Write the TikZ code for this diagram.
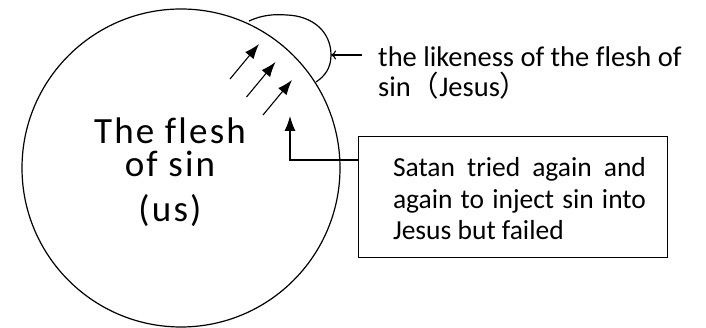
\documentclass[tikz,border=0pt]{standalone}
\usepackage{fontspec}
\setmainfont{Carlito}[Ligatures=NoCommon]
\newfontfamily\spacedfont{Carlito}[LetterSpace=6,Ligatures=NoCommon]
\newfontfamily\cjk{Noto Sans CJK SC}
\usetikzlibrary{arrows.meta,positioning}

\tikzset{
  outline/.style={line width=1.2pt},
  jab/.style={-{Latex[length=15pt,width=11pt]}, line width=1.1pt},
  note/.style={draw, line width=0.9pt, minimum width=309pt, minimum height=121pt, inner sep=0pt},
}

\begin{document}
\begin{tikzpicture}[x=1pt, y=-1pt, >=latex]
  \useasboundingbox (0,0) rectangle (706,328);

  % --- Cerchio grande (la carne del peccato) ---
  \node[draw, circle, outline, minimum size=318pt, inner sep=0pt] (flesh) at (181,168) {};
  \node[font=\spacedfont\fontsize{37}{33}\selectfont, align=center, inner sep=0pt]
    (fleshtxt) at (170,172) {The flesh\\of sin\\[12pt](us)};

  % --- Gobba: la somiglianza della carne ---
  \coordinate (bumpR) at (331,55);
  \draw[outline] (249,21) .. controls (262,15) and (274,14) .. (287,15)
    .. controls (313,16) and (331,32) .. (bumpR)
    .. controls (331,68) and (325,76) .. (316,82);

  % --- Frecce di Satana ---
  \foreach \i in {0,1,2}
    \draw[jab] (230+16.5*\i, 79+18*\i) -- ++(29,-35);

  % --- Etichetta in alto a destra ---
  \node[font=\fontsize{28.5}{30}\selectfont, align=left, anchor=north west, inner xsep=8pt, inner ysep=0pt]
    (likeness) at (370,47) {the likeness of the flesh of\\sin{\cjk （}Jesus{\cjk ）}};
  \draw[-{To[length=5pt,width=9pt]}, line width=1.1pt, shorten <=8pt] (likeness.west |- bumpR) -- (bumpR);

  % --- Riquadro: Satana ---
  \node[note] (satan) at (512.5,196.5) {};
  \node[font=\fontsize{27.5}{31.5}\selectfont, text width=253pt, align=justify, inner sep=0pt]
    (satantxt) at (519.5,199) {Satan tried again and again to inject sin into Jesus but failed};

  \coordinate (tip) at (290,116);
  \draw[jab] ([yshift=36.5pt]satan.west) -| (tip);
\end{tikzpicture}
\end{document}
